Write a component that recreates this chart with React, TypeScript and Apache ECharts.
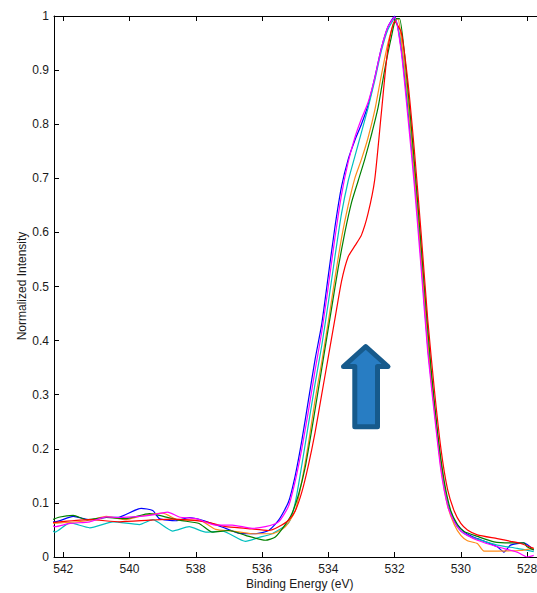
import React, { useEffect, useRef } from "react";
import * as echarts from "echarts";

// Binding energy (eV) vs normalized intensity, one list per spectrum
const blueData: [number, number][] = [
  [542.5,0.065],[542.25,0.065],[541.7,0.075],[541.2,0.069],[540.7,0.073],[540.3,0.074],[539.65,0.09],[539.3,0.086],[539.1,0.071],[538.6,0.067],[538.2,0.073],[537.8,0.068],[537.1,0.053],[536.7,0.044],[536.2,0.043],[535.8,0.049],[535.5,0.068],[535.2,0.102],[535.0,0.15],[534.8,0.215],[534.6,0.29],[534.4,0.365],[534.2,0.43],[534.0,0.52],[533.8,0.61],[533.6,0.685],[533.4,0.735],[533.2,0.77],[533.0,0.8],[532.8,0.835],[532.6,0.885],[532.4,0.94],[532.2,0.98],[532.0,1.0],[531.8,0.94],[531.6,0.83],[531.4,0.7],[531.2,0.55],[531.0,0.39],[530.8,0.275],[530.6,0.17],[530.4,0.1],[530.2,0.068],[530.0,0.052],[529.8,0.042],[529.5,0.034],[528.9,0.019],[528.7,0.009],[528.5,0.022],[528.1,0.026],[527.8,0.013]
];
const magentaData: [number, number][] = [
  [542.5,0.071],[542.25,0.056],[541.8,0.062],[541.2,0.065],[540.7,0.074],[540.3,0.073],[539.7,0.075],[539.3,0.078],[538.85,0.083],[538.5,0.074],[538.0,0.071],[537.4,0.059],[536.9,0.059],[536.3,0.053],[535.9,0.056],[535.5,0.065],[535.2,0.094],[535.0,0.14],[534.8,0.2],[534.6,0.27],[534.4,0.345],[534.2,0.415],[534.0,0.5],[533.8,0.59],[533.6,0.67],[533.4,0.73],[533.2,0.775],[533.0,0.81],[532.8,0.84],[532.6,0.885],[532.4,0.94],[532.2,0.98],[532.0,0.998],[531.8,0.935],[531.6,0.815],[531.4,0.685],[531.2,0.535],[531.0,0.38],[530.8,0.265],[530.6,0.16],[530.4,0.095],[530.2,0.065],[530.0,0.048],[529.8,0.04],[529.5,0.031],[528.9,0.019],[528.3,0.009],[528.0,0.0],[527.8,0.003]
];
const cyanData: [number, number][] = [
  [542.5,0.062],[542.25,0.046],[541.8,0.063],[541.2,0.054],[540.5,0.065],[539.7,0.06],[539.3,0.069],[538.7,0.048],[538.2,0.056],[537.7,0.046],[537.2,0.048],[536.5,0.029],[536.1,0.036],[535.7,0.043],[535.2,0.063],[535.0,0.1],[534.8,0.17],[534.6,0.245],[534.4,0.32],[534.2,0.39],[534.0,0.47],[533.8,0.555],[533.6,0.635],[533.4,0.695],[533.2,0.74],[533.0,0.785],[532.8,0.83],[532.6,0.88],[532.4,0.935],[532.2,0.975],[532.0,0.995],[531.8,0.95],[531.6,0.84],[531.4,0.705],[531.2,0.555],[531.0,0.4],[530.8,0.28],[530.6,0.17],[530.4,0.1],[530.2,0.065],[530.0,0.048],[529.8,0.04],[529.5,0.033],[528.9,0.022],[528.3,0.016],[527.8,0.01]
];
const orangeData: [number, number][] = [
  [542.5,0.062],[542.1,0.063],[541.3,0.067],[540.7,0.075],[540.1,0.069],[539.7,0.075],[539.0,0.081],[538.5,0.068],[537.9,0.068],[537.4,0.051],[536.9,0.048],[536.3,0.043],[535.7,0.043],[535.3,0.056],[535.0,0.085],[534.8,0.14],[534.6,0.21],[534.4,0.29],[534.2,0.36],[534.0,0.435],[533.8,0.515],[533.6,0.59],[533.4,0.65],[533.2,0.7],[533.0,0.735],[532.8,0.775],[532.6,0.825],[532.4,0.89],[532.2,0.95],[532.0,0.99],[531.9,0.995],[531.8,0.96],[531.6,0.85],[531.4,0.71],[531.2,0.56],[531.0,0.4],[530.8,0.275],[530.6,0.165],[530.4,0.095],[530.2,0.06],[530.0,0.04],[529.8,0.03],[529.5,0.025],[529.3,0.011],[528.9,0.011],[528.2,0.012],[527.8,0.016]
];
const greenData: [number, number][] = [
  [542.5,0.065],[542.1,0.074],[541.7,0.077],[541.3,0.069],[540.7,0.073],[540.1,0.071],[539.4,0.08],[539.1,0.077],[538.5,0.068],[537.9,0.062],[537.5,0.046],[537.0,0.049],[536.5,0.04],[535.9,0.031],[535.6,0.037],[535.3,0.06],[535.1,0.08],[534.9,0.115],[534.7,0.165],[534.5,0.235],[534.3,0.31],[534.1,0.385],[533.9,0.46],[533.7,0.535],[533.5,0.6],[533.3,0.655],[533.1,0.695],[532.9,0.735],[532.7,0.78],[532.5,0.83],[532.3,0.9],[532.1,0.96],[531.95,0.995],[531.85,0.995],[531.7,0.93],[531.5,0.8],[531.3,0.655],[531.1,0.5],[530.9,0.35],[530.7,0.23],[530.5,0.14],[530.3,0.085],[530.1,0.06],[529.9,0.047],[529.5,0.038],[529.0,0.028],[528.4,0.026],[528.1,0.026],[528.0,0.019],[527.8,0.013]
];
const redData: [number, number][] = [
  [542.5,0.062],[542.1,0.065],[541.2,0.069],[540.3,0.065],[539.4,0.068],[538.7,0.07],[537.7,0.065],[537.1,0.056],[536.5,0.053],[535.8,0.049],[535.5,0.056],[535.2,0.068],[535.0,0.085],[534.8,0.12],[534.6,0.17],[534.4,0.23],[534.2,0.3],[534.0,0.37],[533.8,0.44],[533.6,0.51],[533.4,0.555],[533.2,0.575],[533.0,0.595],[532.8,0.635],[532.6,0.697],[532.4,0.82],[532.2,0.94],[532.0,0.99],[531.8,0.97],[531.6,0.88],[531.4,0.75],[531.2,0.6],[531.0,0.44],[530.8,0.31],[530.6,0.2],[530.4,0.125],[530.2,0.085],[530.0,0.062],[529.8,0.05],[529.5,0.041],[528.9,0.034],[528.5,0.029],[528.2,0.025],[527.8,0.016]
];

const xTicks = [528, 530, 532, 534, 536, 538, 540, 542];
const xMin = 527.64;
const xMax = 542.28;

const seriesList = [
  { name: "blue", color: "#0000ff", data: blueData },
  { name: "cyan", color: "#00bfbf", data: cyanData },
  { name: "orange", color: "#ff8c1a", data: orangeData },
  { name: "green", color: "#008000", data: greenData },
  { name: "red", color: "#ff0000", data: redData },
  { name: "magenta", color: "#ff00ff", data: magentaData },
];

const FONT = "Liberation Sans, Arial, sans-serif";
const TXT = "#1a1a1a";

export default function App() {
  const ref = useRef<HTMLDivElement>(null);
  useEffect(() => {
    if (!ref.current) return;
    const chart = echarts.init(ref.current, undefined, { renderer: "svg" });
    const axisLine = { show: true, lineStyle: { color: "#000", width: 1 } };
    chart.setOption({
      animation: false,
      backgroundColor: "#fff",
      grid: { left: 54, top: 16, right: -2, bottom: 36, containLabel: false, outerBoundsMode: "none" },
      xAxis: [
        {
          type: "value",
          inverse: true,
          min: xMin,
          max: xMax,
          position: "bottom",
          axisLine,
          splitLine: { show: false },
          axisTick: { show: true, inside: true, length: 5, customValues: xTicks, lineStyle: { color: "#000" } },
          axisLabel: { customValues: xTicks, fontSize: 12, fontFamily: FONT, color: TXT, margin: 6 },
        },
        {
          type: "value",
          inverse: true,
          min: xMin,
          max: xMax,
          position: "top",
          axisLine,
          splitLine: { show: false },
          axisTick: { show: true, inside: true, length: 5, customValues: xTicks, lineStyle: { color: "#000" } },
          axisLabel: { show: false },
        },
      ],
      yAxis: {
        type: "value",
        min: 0,
        max: 1,
        interval: 0.1,
        axisLine,
        splitLine: { show: false },
        axisTick: { show: true, inside: true, length: 5, lineStyle: { color: "#000" } },
        axisLabel: {
          fontSize: 12,
          fontFamily: FONT,
          color: TXT,
          margin: 5,
          formatter: (v: number) => String(+v.toFixed(1)),
        },
      },
      series: seriesList.map((s) => ({
        type: "line",
        name: s.name,
        data: s.data,
        xAxisIndex: 0,
        showSymbol: false,
        smooth: 0.2,
        lineStyle: { color: s.color, width: 1.2 },
        itemStyle: { color: s.color },
        clip: true,
      })),
      graphic: [
        {
          type: "text",
          left: 246,
          top: 578,
          style: { text: "Binding Energy (eV)", fontSize: 12, fontFamily: FONT, fill: TXT },
        },
        {
          type: "text",
          x: 22,
          y: 286,
          rotation: Math.PI / 2,
          style: {
            text: "Normalized Intensity",
            fontSize: 12,
            fontFamily: FONT,
            fill: TXT,
            align: "center",
            verticalAlign: "middle",
          },
        },
        {
          type: "polygon",
          shape: {
            points: [
              [365.7, 346.5],
              [388, 366.5],
              [377.5, 366.5],
              [377.5, 426.8],
              [354.8, 426.8],
              [354.8, 366.5],
              [343.5, 366.5],
            ],
          },
          style: { fill: "#287dc3", stroke: "#165a8c", lineWidth: 5, lineJoin: "round" },
          z: 100,
        },
      ],
    });
    return () => chart.dispose();
  }, []);
  return (
    <div
      ref={ref}
      style={{ position: "absolute", left: 0, top: 0, width: 537, height: 593, overflow: "hidden" }}
    />
  );
}
